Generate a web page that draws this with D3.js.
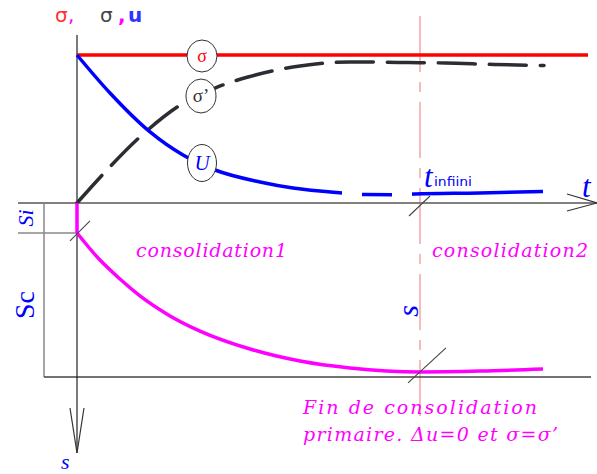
<!DOCTYPE html>
<html>
<head>
<meta charset="utf-8">
<script src="https://cdn.jsdelivr.net/npm/d3@7"></script>
<style>
  body { margin: 0; background: #fff; }
  svg { display: block; }
</style>
</head>
<body>
<div id="chart"></div>
<script>
// time in arbitrary units, stresses as fraction of sigma, settlement in arbitrary units
const sigmaT = [0, 10.22]
const sigmaVal = [1, 1]

const uT   = [0, 0.66, 1.46, 2.12, 2.76, 3.66, 4.32, 5.30, 5.76, 6.30, 6.76, 8.06, 9.32]
const uVal = [1.0, 0.743, 0.480, 0.324, 0.223, 0.142, 0.101, 0.068, 0.057, 0.056, 0.061, 0.068, 0.078]

const effT   = [0, 0.56, 1.30, 2.16, 2.76, 3.42, 4.46, 5.46, 6.64, 7.36, 8.34, 9.34]
const effVal = [0, 0.209, 0.459, 0.682, 0.777, 0.851, 0.926, 0.953, 0.949, 0.946, 0.936, 0.929]

const settleT   = [0, 0.46, 0.86, 1.26, 1.86, 2.46, 3.46, 4.46, 5.46, 6.86, 8.06, 9.32]
const settleVal = [1.72, 3.28, 4.37, 5.34, 6.49, 7.36, 8.39, 9.08, 9.48, 9.71, 9.66, 9.54]

const Si = 1.72        // immediate settlement
const tEnd = 6.86      // end of primary consolidation
const sFinal = 9.71
const sMax = 10

const width = 597, height = 474

var svg = d3.select("#chart")
    .append("svg")
    .attr("width", width)
    .attr("height", height)

svg.append("rect").attr("width", width).attr("height", height).attr("fill", "#fff")

// scales
var x = d3.scaleLinear().domain([0, 10]).range([77, 577])
var yStress = d3.scaleLinear().domain([0, 1]).range([203, 55])
var ySettle = d3.scaleLinear().domain([0, 10]).range([203, 377])

const serif = "'Liberation Serif', 'DejaVu Serif', serif"
const wideSerif = "'DejaVu Serif', serif"

// dashed pink vertical line at t infini
svg.append("line")
    .attr("x1", x(tEnd)).attr("x2", x(tEnd))
    .attr("y1", 16).attr("y2", 418)
    .attr("stroke", "#f09090")
    .attr("stroke-width", 1.2)
    .attr("stroke-dasharray", "56,10,10,10")

// frame lines for Si / Sc
svg.append("line")
    .attr("x1", 44).attr("x2", 44)
    .attr("y1", ySettle(0)).attr("y2", ySettle(sMax))
    .attr("stroke", "#888").attr("stroke-width", 1.5)
svg.append("line")
    .attr("x1", 18).attr("x2", x(0))
    .attr("y1", ySettle(Si)).attr("y2", ySettle(Si))
    .attr("stroke", "#888").attr("stroke-width", 1.5)
svg.append("line")
    .attr("x1", 44).attr("x2", 591)
    .attr("y1", ySettle(sMax)).attr("y2", ySettle(sMax))
    .attr("stroke", "#444").attr("stroke-width", 1.5)

// t axis with arrow
svg.append("line")
    .attr("x1", 18).attr("x2", 597)
    .attr("y1", yStress(0)).attr("y2", yStress(0))
    .attr("stroke", "#808080").attr("stroke-width", 2)
svg.append("path")
    .attr("d", "M567," + (yStress(0) - 9) + " L597," + yStress(0) + " L567," + (yStress(0) + 8))
    .attr("fill", "none").attr("stroke", "#333").attr("stroke-width", 1.2)

// vertical axis with arrow
svg.append("line")
    .attr("x1", x(0)).attr("x2", x(0))
    .attr("y1", 35).attr("y2", 453)
    .attr("stroke", "#222").attr("stroke-width", 1.2)
svg.append("path")
    .attr("d", "M70,408 L77,453 L84,408")
    .attr("fill", "none").attr("stroke", "#333").attr("stroke-width", 1.2)

// sigma line
svg.append("path")
    .datum(sigmaT.map((t, i) => [t, sigmaVal[i]]))
    .attr("d", d3.line().x(d => x(d[0])).y(d => yStress(d[1])))
    .attr("stroke", "#ff0000").attr("stroke-width", 3.5).attr("fill", "none")

// sigma' dashed curve
svg.append("path")
    .datum(effT.map((t, i) => [t, effVal[i]]))
    .attr("d", d3.line().x(d => x(d[0])).y(d => yStress(d[1])).curve(d3.curveMonotoneX))
    .attr("stroke", "#2a2e33").attr("stroke-width", 3.5).attr("fill", "none")
    .attr("stroke-linecap", "round")
    .attr("stroke-dasharray", "37,14")

// u curve: solid, a single dash, then solid again
var defs = svg.append("defs")
var clip = defs.append("clipPath").attr("id", "uclip")
const uPieces = [[0, 5.30], [5.76, 6.30], [6.76, 9.4]]
uPieces.forEach(p => {
    clip.append("rect")
        .attr("x", x(p[0]) - 3).attr("width", x(p[1]) - x(p[0]) + 3)
        .attr("y", 0).attr("height", height)
})
svg.append("path")
    .datum(uT.map((t, i) => [t, uVal[i]]))
    .attr("d", d3.line().x(d => x(d[0])).y(d => yStress(d[1])).curve(d3.curveMonotoneX))
    .attr("stroke", "#0000ff").attr("stroke-width", 3.5).attr("fill", "none")
    .attr("clip-path", "url(#uclip)")

// settlement curve
svg.append("line")
    .attr("x1", x(0)).attr("x2", x(0))
    .attr("y1", ySettle(0)).attr("y2", ySettle(Si))
    .attr("stroke", "#ff00ff").attr("stroke-width", 3.5)
svg.append("path")
    .datum(settleT.map((t, i) => [t, settleVal[i]]))
    .attr("d", d3.line().x(d => x(d[0])).y(d => ySettle(d[1])).curve(d3.curveMonotoneX))
    .attr("stroke", "#ff00ff").attr("stroke-width", 3.5).attr("fill", "none")

// small slash marks
const slashes = [
    [x(0), ySettle(Si), -7, 8, 13, -12],
    [x(tEnd), yStress(0), -11, 13, 10, -7],
    [x(tEnd), ySettle(sFinal), -12, 11, 26, -24]
]
svg.selectAll("slash")
    .data(slashes)
    .enter()
    .append("line")
    .attr("x1", d => d[0] + d[2]).attr("y1", d => d[1] + d[3])
    .attr("x2", d => d[0] + d[4]).attr("y2", d => d[1] + d[5])
    .attr("stroke", "#444").attr("stroke-width", 1.1)

// circled curve labels
const bubbles = [
    {cx: 202, cy: 56, rx: 15, ry: 16, text: "σ", color: "#ff0000", italic: false, size: 18},
    {cx: 201, cy: 96, rx: 15, ry: 17, text: "σ’", color: "#333", italic: false, size: 19},
    {cx: 202, cy: 163, rx: 14.5, ry: 18.5, text: "U", color: "#0000ff", italic: true, size: 21}
]
var b = svg.selectAll("bubble").data(bubbles).enter().append("g")
b.append("ellipse")
    .attr("cx", d => d.cx).attr("cy", d => d.cy)
    .attr("rx", d => d.rx).attr("ry", d => d.ry)
    .attr("fill", "#fff").attr("stroke", "#333").attr("stroke-width", 1)
b.append("text")
    .attr("x", d => d.cx).attr("y", d => d.cy + d.size * 0.33)
    .attr("text-anchor", "middle")
    .attr("font-family", serif)
    .attr("font-style", d => d.italic ? "italic" : "normal")
    .attr("font-size", d => d.size)
    .attr("fill", d => d.color)
    .text(d => d.text)

// title at top left
const title = [
    {x: 55, text: "σ", color: "#ff3333", weight: "normal"},
    {x: 68, text: ",", color: "#ff00ff", weight: "normal"},
    {x: 100, text: "σ", color: "#444", weight: "normal"},
    {x: 118, text: ",", color: "#ff00ff", weight: "bold"},
    {x: 128, text: "u", color: "#3333ff", weight: "bold"}
]
svg.selectAll("ttl").data(title).enter().append("text")
    .attr("x", d => d.x).attr("y", 22)
    .attr("font-family", "'DejaVu Sans', sans-serif")
    .attr("font-size", 20)
    .attr("font-weight", d => d.weight)
    .attr("fill", d => d.color)
    .text(d => d.text)

// axis letters
svg.append("text")
    .attr("x", 582).attr("y", 197)
    .attr("font-family", serif).attr("font-style", "italic")
    .attr("font-size", 31).attr("fill", "#0000ff")
    .text("t")
svg.append("text")
    .attr("x", 424).attr("y", 187)
    .attr("font-family", serif).attr("font-style", "italic")
    .attr("font-size", 31).attr("fill", "#0000ff")
    .text("t")
svg.append("text")
    .attr("x", 434).attr("y", 186)
    .attr("font-family", "'DejaVu Sans', sans-serif")
    .attr("font-size", 13).attr("fill", "#0000ff")
    .attr("textLength", 38).attr("lengthAdjust", "spacingAndGlyphs")
    .text("infiini")
svg.append("text")
    .attr("x", 61).attr("y", 469)
    .attr("font-family", serif).attr("font-style", "italic")
    .attr("font-size", 22).attr("fill", "#0000ff")
    .text("s")

// rotated labels
const rotLabels = [
    {x: 33, y: 218, text: "Si", size: 22, italic: true},
    {x: 34, y: 305, text: "Sc", size: 28, italic: false},
    {x: 418, y: 311, text: "s", size: 30, italic: true}
]
svg.selectAll("rot").data(rotLabels).enter().append("text")
    .attr("transform", d => "translate(" + d.x + "," + d.y + ") rotate(-90)")
    .attr("text-anchor", "middle")
    .attr("font-family", serif)
    .attr("font-style", d => d.italic ? "italic" : "normal")
    .attr("font-size", d => d.size)
    .attr("fill", "#0000ff")
    .text(d => d.text)

// magenta annotations
const notes = [
    {x: 136, y: 257, text: "consolidation1", len: 151},
    {x: 432, y: 257, text: "consolidation2", len: 156},
    {x: 303, y: 414, text: "Fin de consolidation", len: 234},
    {x: 303, y: 441, text: "primaire. Δu=0 et σ=σ’", len: 255}
]
svg.selectAll("note").data(notes).enter().append("text")
    .attr("x", d => d.x).attr("y", d => d.y)
    .attr("font-family", wideSerif).attr("font-style", "italic")
    .attr("font-size", 19).attr("fill", "#ff00ff")
    .attr("textLength", d => d.len).attr("lengthAdjust", "spacing")
    .text(d => d.text)
</script>
</body>
</html>
